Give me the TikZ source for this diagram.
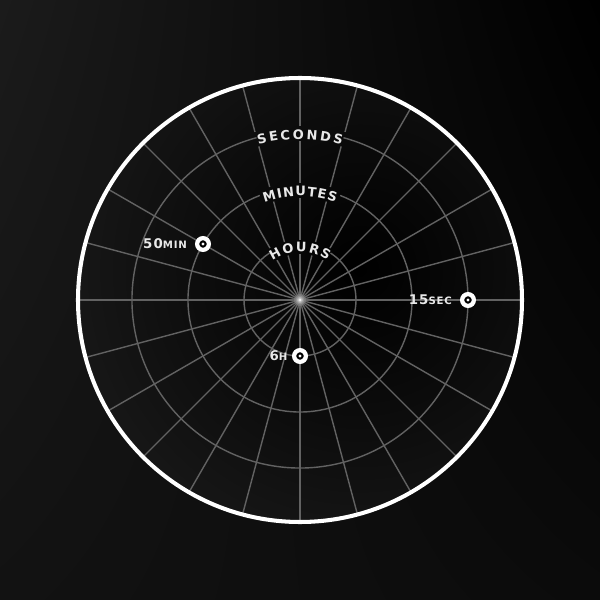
\documentclass[tikz,border=0pt]{standalone}
\usepackage{fontspec}
\newfontfamily\dialfont[LetterSpace=8]{DejaVu Sans Bold}
\usetikzlibrary{positioning, decorations.text, shadings}
\definecolor{bgTL}{HTML}{1B1B1B}
\definecolor{bgBL}{HTML}{121212}
\definecolor{bgBR}{HTML}{0B0B0B}
\definecolor{dialbg}{HTML}{1A1A1A}
\definecolor{gridgray}{HTML}{626262}
\definecolor{labelgray}{HTML}{E8E8E8}
\newcommand{\lowcaps}[1]{{\fontsize{5.8pt}{6pt}\selectfont #1}}

\begin{document}
\begin{tikzpicture}[scale=0.02,
    gridline/.style={draw=gridgray, line width=0.8pt},
    rim/.style={draw=white, line width=2.3pt},
    marker/.style={circle, draw=white, fill=black, line width=2.4pt, minimum size=6.7pt, inner sep=0pt},
    tag/.style={inner sep=0pt, text=labelgray, font=\dialfont\fontsize{7.6pt}{8pt}\selectfont},
    curved/.style={decorate, decoration={text along path,
        text={|\dialfont\fontsize{7.4pt}{8pt}\selectfont\color{labelgray}|#1}, text align={fit to path}}}]
  \useasboundingbox (-300,-300) rectangle (300,300);
  \shade[upper left=bgTL, upper right=black, lower left=bgBL, lower right=bgBR] (-300,-300) rectangle (300,300);
  \begin{scope}
    \clip (0,0) circle (222);
    \shade[inner color=black, outer color=dialbg] (60,30) circle (330);
  \end{scope}
  % spokes, broken where the ring names sit
  \foreach \a in {0,15,30,45,135,150,...,345}
    \draw[gridline] (0,0) -- (\a:222);
  \foreach \a in {60,120}
    \draw[gridline] (0,0) -- (\a:46) (\a:60) -- (\a:222);
  \foreach \a in {75,90,105}
    \draw[gridline] (0,0) -- (\a:46) (\a:60) -- (\a:102) (\a:117) -- (\a:159) (\a:174) -- (\a:222);
  % rings
  \foreach \r/\g in {56/33, 112/21, 168/15}
    \draw[gridline] (90+\g:\r) arc[start angle=90+\g, end angle=450-\g, radius=\r];
  \draw[rim] (0,0) circle (222);
  \foreach \r/\o in {6/0.15, 4.5/0.2, 3/0.3, 1.8/0.5, 1/0.8}
    \fill[white, opacity=\o] (0,0) circle (\r);
  % ring names
  \path[curved=SECONDS] (105:161) arc[start angle=105, end angle=75, radius=161];
  \path[curved=MINUTES] (110:104) arc[start angle=110, end angle=70, radius=104];
  \path[curved=HOURS] (125:48) arc[start angle=125, end angle=55, radius=48];
  % hands
  \node[marker] (m50) at (150:112) {};
  \node[marker] (m15) at (0:168) {};
  \node[marker] (m6) at (270:56) {};
  \foreach \m in {m50,m15,m6}
    \fill[white] (\m) circle (1.6);
  \node[tag, left=4.4pt of m50] (t50) {50\lowcaps{MIN}};
  \node[tag, left=4.4pt of m15] (t15) {15\lowcaps{SEC}};
  \node[tag, left=2.4pt of m6] (t6) {6\lowcaps{H}};
\end{tikzpicture}
\end{document}
